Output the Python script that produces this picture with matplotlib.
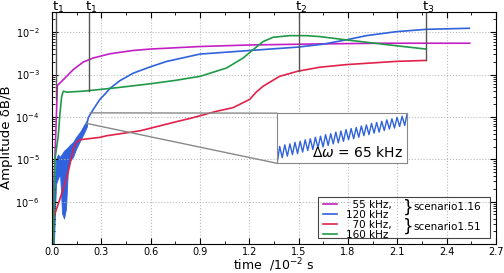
import numpy as np
import matplotlib
matplotlib.use('Agg')
import matplotlib.pyplot as plt
from matplotlib.patches import Rectangle, ConnectionPatch
from matplotlib.ticker import MultipleLocator, FormatStrFormatter, LogLocator, NullFormatter

# time in 1e-2 s, amplitude dB/B
t_mag = [0.005, 0.008, 0.012, 0.02, 0.028, 0.032, 0.069, 0.129, 0.19, 0.25, 0.352,
         0.49, 0.595, 0.9, 1.2, 1.63, 2.0, 2.54]
a_mag = [1.1e-7, 6e-7, 3e-6, 2e-5, 1.5e-4, 5.5e-4, 7.6e-4, 1.31e-3, 1.98e-3, 2.46e-3, 3.1e-3,
         3.7e-3, 4.0e-3, 4.6e-3, 5.0e-3, 5.3e-3, 5.5e-3, 5.5e-3]

# 120 kHz: early fast oscillation shown as its envelope, then the smooth growth
t_band = [0.004, 0.012, 0.024, 0.036, 0.049, 0.061, 0.073, 0.085, 0.097, 0.109, 0.128,
          0.146, 0.17, 0.194, 0.213]
band_hi = [3e-7, 1.2e-6, 1.0e-5, 1.3e-5, 1.15e-5, 1.35e-5, 1.6e-5, 1.75e-5, 1.95e-5, 2.2e-5,
           2.55e-5, 3.35e-5, 4.4e-5, 6.4e-5, 8.4e-5]
band_lo = [1.05e-7, 1.05e-7, 2.6e-6, 3.5e-6, 4.5e-6, 5.3e-7, 4.0e-7, 6.9e-7, 6e-6, 9.2e-6,
           1.14e-5, 1.75e-5, 2.7e-5, 4.15e-5, 6.05e-5]
t_blue = [0.213, 0.221, 0.251, 0.291, 0.32, 0.352, 0.413, 0.494, 0.595, 0.696, 0.9, 1.2,
          1.494, 1.645, 1.789, 1.911, 2.093, 2.275, 2.538]
a_blue = [7.1e-5, 9.7e-5, 1.51e-4, 2.6e-4, 3.4e-4, 4.7e-4, 7.2e-4, 1.08e-3, 1.51e-3, 2.04e-3,
          3.05e-3, 3.7e-3, 4.45e-3, 5.2e-3, 6.6e-3, 8.3e-3, 1.03e-2, 1.17e-2, 1.24e-2]

t_red = [0.004, 0.008, 0.069, 0.099, 0.129, 0.15, 0.17, 0.291, 0.332, 0.534, 0.777, 0.838,
         1.0, 1.101, 1.202, 1.24, 1.283, 1.384, 1.494, 1.627, 1.789, 2.093, 2.275]
a_red = [1.05e-7, 4.0e-7, 2.03e-6, 5.1e-6, 1.75e-5, 2.56e-5, 2.9e-5, 3.3e-5, 3.6e-5, 4.7e-5,
         8.1e-5, 9.2e-5, 1.36e-4, 1.66e-4, 2.6e-4, 3.8e-4, 5.3e-4, 9.1e-4, 1.2e-3, 1.49e-3,
         1.72e-3, 2.05e-3, 2.16e-3]

t_green = [0.008, 0.018, 0.038, 0.049, 0.059, 0.069, 0.089, 0.19, 0.393, 0.595, 0.75, 0.9,
           1.061, 1.162, 1.222, 1.283, 1.344, 1.445, 1.546, 1.627, 1.789, 2.093, 2.275]
a_green = [1.05e-7, 1e-5, 3.6e-5, 1.3e-4, 3.1e-4, 4.06e-4, 3.85e-4, 4.06e-4, 4.9e-4, 6.05e-4,
           7.3e-4, 9.1e-4, 1.43e-3, 2.46e-3, 3.85e-3, 6.0e-3, 7.6e-3, 8.3e-3, 8.3e-3, 7.9e-3,
           6.6e-3, 4.8e-3, 4.0e-3]

labels = ['  55 kHz,', '120 kHz', '  70 kHz,', '160 kHz']
scenarios = ['scenario1.16', 'scenario1.51']

# marked times
t_marks = [0.0225, 0.226, 1.5, 2.275]
a_marks = [2.6e-4, 4.2e-4, 1.2e-3, 2.16e-3]
mark_labels = ['t$_1$', 't$_1$', 't$_2$', 't$_3$']

# zoomed window of the 120 kHz curve (inset), amplitude in 1e-5
zoom_t = (0.206, 0.231)
zoom_a = (7.1e-5, 1.25e-4)
ins_amp = [7.9, 9.55, 8.45, 9.7, 8.6, 9.8, 8.75, 9.95, 8.85, 10.05, 9.0, 10.2, 9.15, 10.3, 9.25,
           10.45, 9.4, 10.55, 9.5, 10.7, 9.65, 10.8, 9.8, 10.95, 9.9, 11.05, 10.05, 11.2, 10.2,
           11.3, 10.3, 11.4, 10.45, 11.55, 10.6, 11.65, 10.7, 11.8, 10.85, 11.9, 10.95, 12.0,
           11.1, 12.15, 11.25, 12.25, 11.35, 12.4, 11.5, 12.5, 11.6, 12.8]

c_mag = '#c41fc4'
c_blue = '#2f62dc'
c_red = '#e0224a'
c_green = '#1f9a48'

fig = plt.figure(figsize=(5.04, 2.73), dpi=100)
ax = fig.add_axes([0.1032, 0.106, 0.881, 0.85])

l1, = ax.plot(t_mag, a_mag, color=c_mag, lw=1.2)
ax.fill_between(t_band, band_lo, band_hi, color=c_blue, lw=0.6)
l2, = ax.plot(t_blue, a_blue, color=c_blue, lw=1.2)
l3, = ax.plot(t_red, a_red, color=c_red, lw=1.2)
l4, = ax.plot(t_green, a_green, color=c_green, lw=1.2)

ax.set_yscale('log')
ax.set_xlim(0, 2.7)
ax.set_ylim(1e-7, 3e-2)
ax.xaxis.set_major_locator(MultipleLocator(0.3))
ax.xaxis.set_major_formatter(FormatStrFormatter('%.1f'))
ax.xaxis.set_minor_locator(MultipleLocator(0.15))
ax.set_yticks([1e-6, 1e-5, 1e-4, 1e-3, 1e-2])
ax.yaxis.set_minor_locator(LogLocator(subs=range(2, 10)))
ax.yaxis.set_minor_formatter(NullFormatter())
ax.tick_params(which='both', direction='in', top=True, right=True, labelsize=7)
ax.tick_params(which='major', length=4)
ax.tick_params(which='minor', length=2)
ax.tick_params(axis='y', pad=9)
ax.tick_params(axis='x', pad=2)
ax.grid(True, which='major', ls=':', color='#bbbbbb', lw=0.8)

for t, a, lbl in zip(t_marks, a_marks, mark_labels):
    ax.plot([t, t], [a, 3e-2], color='#555555', lw=1)
    ax.annotate(lbl, xy=(t, 1), xycoords=('data', 'axes fraction'), xytext=(-3, 0.5),
                textcoords='offset points', ha='left', va='baseline', fontsize=9.5)

ax.set_xlabel('time  /10$^{-2}$ s', fontsize=9, labelpad=-0.5)
ax.set_ylabel('Amplitude δB/B', fontsize=9.5)
ax.yaxis.set_label_coords(-0.088, 0.46)

# inset
axins = ax.inset_axes([0.507, 0.348, 0.293, 0.216])
ins_t = np.linspace(zoom_t[0], zoom_t[1], len(ins_amp))
axins.plot(ins_t, np.array(ins_amp) * 1e-5, color=c_blue, lw=1)
axins.set_xlim(zoom_t)
axins.set_ylim(min(ins_amp) * 1e-5, max(ins_amp) * 1e-5)
axins.set_xticks([])
axins.set_yticks([])
for s in axins.spines.values():
    s.set_color('#888888')
axins.text(0.97, 0.06, r'$\Delta\omega$ = 65 kHz', transform=axins.transAxes,
           ha='right', va='bottom', fontsize=10)
for xa, xb in [((zoom_t[1], zoom_a[1]), (0, 1)), ((zoom_t[0], zoom_a[0]), (0, 0))]:
    cp = ConnectionPatch(xyA=xa, coordsA=ax.transData, xyB=xb, coordsB=axins.transAxes,
                         color='#888888', lw=1)
    fig.add_artist(cp)

# legend with scenario braces
leg = ax.legend([l1, l2, l3, l4], labels, loc='upper left', bbox_to_anchor=(0.605, 0.2),
                frameon=False, fontsize=7.5, labelspacing=0.0, handlelength=1.4,
                handletextpad=0.8, borderaxespad=0, borderpad=0.2)
ax.add_patch(Rectangle((0.598, 0.026), 0.388, 0.175, transform=ax.transAxes,
                       fill=False, ec='#444444', lw=0.8, zorder=5))
for y, name in zip([0.158, 0.073], scenarios):
    ax.text(0.79, y, '}', transform=ax.transAxes, fontsize=12, ha='left', va='center')
    ax.text(0.815, y, name, transform=ax.transAxes, fontsize=7.5, ha='left', va='center')

fig.savefig('out.png', dpi=100)
